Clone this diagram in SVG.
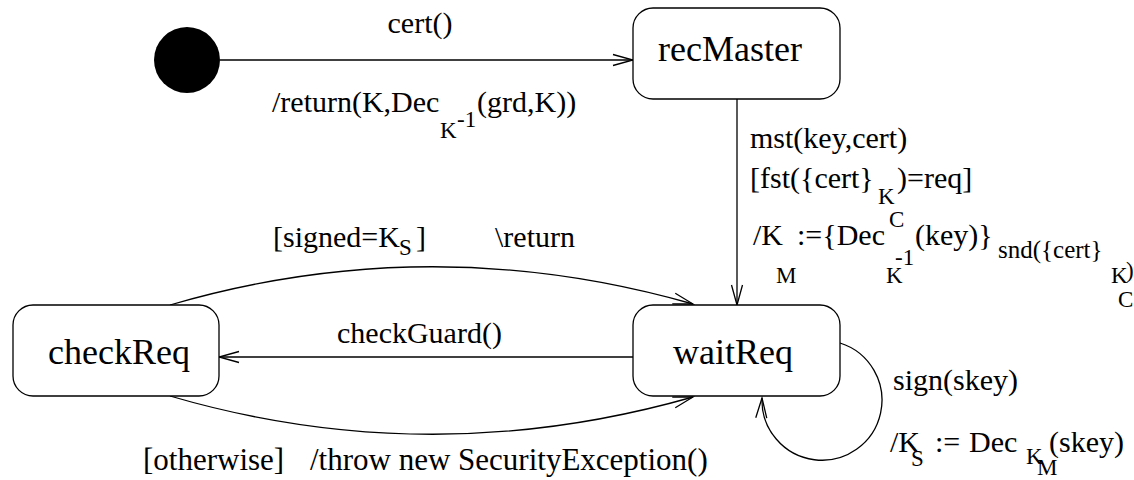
<svg xmlns="http://www.w3.org/2000/svg" width="1134" height="480" viewBox="0 0 1134 480">
<defs>
<marker id="open" markerUnits="userSpaceOnUse" markerWidth="24" markerHeight="14" refX="20" refY="6" orient="auto" overflow="visible">
<path d="M0,0.5 L20,6 L0,11.5" fill="none" stroke="#000" stroke-width="1.3"/>
</marker>
<style>
.st{fill:#fff;stroke:#000;stroke-width:1.3}
.nm{font-family:"Liberation Serif","Times New Roman",serif;font-size:36px;fill:#000;text-anchor:middle}
.lb{font-family:"Liberation Serif","Times New Roman",serif;font-size:30px;fill:#000}
.sb{font-size:23px}
.sn{font-size:25px}
.cn{fill:none;stroke:#000;stroke-width:1.3;marker-end:url(#open)}
</style>
</defs>
<rect width="1134" height="480" fill="#fff"/>
<g id="connectors">
<path class="cn" d="M220,60 L633,60"/>
<path class="cn" d="M737,99 L737,305"/>
<path class="cn" d="M633,357 L219,357"/>
<path class="cn" d="M170,305 Q430,229 693,304"/>
<path class="cn" d="M170,396 Q430,472 693,397"/>
<path class="cn" d="M840,343 A60,60 0 1 1 762,398"/>
</g>
<g id="initial"><circle cx="187" cy="60" r="33" fill="#000"/></g>
<g id="recMaster"><rect class="st" x="633" y="8" width="207" height="91" rx="20"/><text class="nm" x="730" y="61">recMaster</text></g>
<g id="checkReq"><rect class="st" x="13" y="305" width="206" height="91" rx="20"/><text class="nm" x="119" y="364">checkReq</text></g>
<g id="waitReq"><rect class="st" x="633" y="305" width="207" height="91" rx="20"/><text class="nm" x="733" y="364">waitReq</text></g>
<g id="labels">
<text class="lb" x="420" y="33" text-anchor="middle">cert()</text>
<text class="lb"><tspan x="272" y="112">/return(K,Dec</tspan><tspan class="sb" x="440" y="138">K</tspan><tspan class="sb" x="457" y="127">-1</tspan><tspan x="477" y="112">(grd,K))</tspan></text>
<text class="lb"><tspan x="750" y="148">mst(key,cert)</tspan></text>
<text class="lb"><tspan x="750" y="188">[fst({cert}</tspan><tspan class="sb" x="878" y="204">K</tspan><tspan class="sb" x="889" y="227">C</tspan><tspan x="897" y="188">)=req]</tspan></text>
<text class="lb"><tspan x="753" y="245">/K</tspan><tspan class="sb" x="776" y="283">M</tspan><tspan x="797" y="245">:={Dec</tspan><tspan class="sb" x="886" y="283">K</tspan><tspan class="sb" x="895" y="265">-1</tspan><tspan x="915" y="245">(key)}</tspan><tspan class="sn" x="998" y="258">snd({cert}</tspan><tspan class="sb" x="1111" y="283">K</tspan><tspan class="sb" x="1118" y="307">C</tspan><tspan class="sb" x="1126" y="278">)</tspan></text>
<text class="lb"><tspan x="273" y="247">[signed=K</tspan><tspan class="sb" x="399" y="255">S</tspan><tspan x="416" y="247">]</tspan><tspan x="495" y="247">\return</tspan></text>
<text class="lb" x="337" y="343">checkGuard()</text>
<text class="lb" style="font-size:31px"><tspan x="143" y="470">[otherwise]</tspan><tspan x="310" y="470">/throw new SecurityException()</tspan></text>
<text class="lb"><tspan x="893" y="390">sign(skey)</tspan></text>
<text class="lb"><tspan x="890" y="452">/K</tspan><tspan class="sb" x="911" y="466">S</tspan><tspan x="935" y="452">:=</tspan><tspan x="969" y="452">Dec</tspan><tspan class="sb" x="1026" y="464">K</tspan><tspan class="sb" x="1037" y="475">M</tspan><tspan x="1049" y="452">(skey)</tspan></text>
</g>
</svg>
